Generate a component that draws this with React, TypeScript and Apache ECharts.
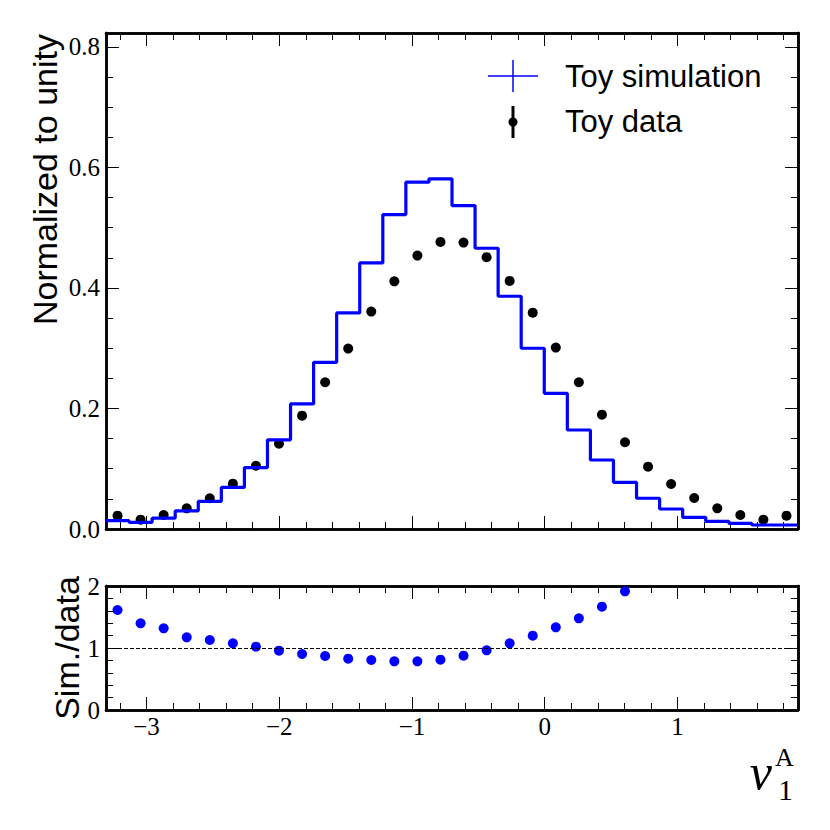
import React, { useEffect, useRef } from "react";
import * as echarts from "echarts";

// ---- data ----
const BIN_LO = -3.305;
const BIN_HI = 1.908;
const N_BINS = 30;

const simValues = [
  0.0138, 0.011, 0.018, 0.03, 0.046, 0.069, 0.102, 0.148, 0.2075, 0.2766,
  0.3585, 0.4415, 0.5217, 0.5754, 0.581, 0.5366, 0.4658, 0.3862, 0.2999, 0.2252,
  0.1643, 0.1145, 0.0775, 0.051, 0.0332, 0.0194, 0.0128, 0.0094, 0.0066, 0.0066,
];

const dataValues = [
  0.0221, 0.0155, 0.0232, 0.0343, 0.051, 0.0752, 0.105, 0.1416, 0.188, 0.2435,
  0.2993, 0.3607, 0.411, 0.4537, 0.4763, 0.4752, 0.451, 0.4116, 0.359, 0.301,
  0.2435, 0.1897, 0.1439, 0.1034, 0.0747, 0.0515, 0.0343, 0.0232, 0.0155, 0.0221,
];

const ratioValues = [
  1.613, 1.398, 1.317, 1.172, 1.129, 1.075, 1.022, 0.957, 0.903, 0.871,
  0.828, 0.806, 0.785, 0.785, 0.812, 0.876, 0.962, 1.075, 1.199, 1.333,
  1.478, 1.667, 1.914,
];

const xMajorTicks = [-3, -2, -1, 0, 1];
const yTopMajorTicks = [0, 0.2, 0.4, 0.6, 0.8];
const yRatioMajorTicks = [0, 1, 2];
const Y_TOP_MAX = 0.823;

const legendSim = "Toy simulation";
const legendData = "Toy data";
const yTitleTop = "Normalized to unity";
const yTitleRatio = "Sim./data";

// ---- derived ----
const binW = (BIN_HI - BIN_LO) / N_BINS;
const edges: number[] = [];
for (let i = 0; i <= N_BINS; i++) edges.push(BIN_LO + i * binW);
const centers = edges.slice(0, N_BINS).map((e) => e + binW / 2);

const histLine: number[][] = simValues.map((v, i) => [edges[i], v]);
histLine.push([edges[N_BINS], simValues[N_BINS - 1]]);

const xMinorTicks: number[] = [];
for (let k = -16; k <= 9; k++) {
  if (k % 5 !== 0) xMinorTicks.push(Math.round(k * 0.2 * 1000) / 1000);
}
const yTopMinorTicks: number[] = [];
for (let k = 1; k <= 15; k++) {
  if (k % 4 !== 0) yTopMinorTicks.push(Math.round(k * 0.05 * 1000) / 1000);
}
const yRatioMinorTicks: number[] = [];
for (let k = 1; k <= 9; k++) {
  if (k % 5 !== 0) yRatioMinorTicks.push(Math.round(k * 0.2 * 1000) / 1000);
}

const SERIF = "'Liberation Serif', 'DejaVu Serif', serif";
const SANS = "'Liberation Sans', Arial, sans-serif";
const MAJ = 13;
const MIN = 7;
const TICK_FONT = 25;

function makeX(gridIndex: number, position: string, ticks: number[], len: number, labels: boolean) {
  return {
    type: "value",
    gridIndex,
    position,
    min: BIN_LO,
    max: BIN_HI,
    axisLine: { show: true, onZero: false, lineStyle: { color: "#000", width: 2.5 } },
    axisTick: { show: true, inside: true, length: len, customValues: ticks, lineStyle: { color: "#000", width: 1 } },
    axisLabel: labels
      ? {
          show: true,
          customValues: xMajorTicks,
          margin: 4,
          fontFamily: SERIF,
          fontSize: TICK_FONT,
          color: "#000",
          formatter: (v: number) => String(v).replace("-", "\u2212"),
        }
      : { show: false },
    splitLine: { show: false },
  };
}

function makeY(
  gridIndex: number,
  position: string,
  min: number,
  max: number,
  ticks: number[],
  len: number,
  labelTicks: number[] | null,
  fmt: (v: number) => string
) {
  return {
    type: "value",
    gridIndex,
    position,
    min,
    max,
    axisLine: { show: true, onZero: false, lineStyle: { color: "#000", width: 2.5 } },
    axisTick: { show: true, inside: true, length: len, customValues: ticks, lineStyle: { color: "#000", width: 1 } },
    axisLabel: labelTicks
      ? {
          show: true,
          customValues: labelTicks,
          margin: 6,
          fontFamily: SERIF,
          fontSize: TICK_FONT,
          color: "#000",
          formatter: fmt,
        }
      : { show: false },
    splitLine: { show: false },
  };
}

export default function App() {
  const ref = useRef<HTMLDivElement>(null);

  useEffect(() => {
    document.body.style.margin = "0";
    if (!ref.current) return;
    const chart = echarts.init(ref.current, null, { renderer: "svg" });

    const fmtTop = (v: number) => v.toFixed(1);
    const fmtRatio = (v: number) => String(v);

    const option: any = {
      animation: false,
      backgroundColor: "#fff",
      grid: [
        { left: 106, top: 33, width: 692, height: 496, show: false },
        { left: 106, top: 586, width: 692, height: 124, show: false },
      ],
      xAxis: [
        makeX(0, "bottom", xMajorTicks, MAJ, false),
        makeX(0, "bottom", xMinorTicks, MIN, false),
        makeX(0, "top", xMajorTicks, MAJ, false),
        makeX(0, "top", xMinorTicks, MIN, false),
        makeX(1, "bottom", xMajorTicks, MAJ, true),
        makeX(1, "bottom", xMinorTicks, MIN, false),
        makeX(1, "top", xMajorTicks, MAJ, false),
        makeX(1, "top", xMinorTicks, MIN, false),
      ],
      yAxis: [
        makeY(0, "left", 0, Y_TOP_MAX, yTopMajorTicks, MAJ, yTopMajorTicks, fmtTop),
        makeY(0, "left", 0, Y_TOP_MAX, yTopMinorTicks, MIN, null, fmtTop),
        makeY(0, "right", 0, Y_TOP_MAX, yTopMajorTicks, MAJ, null, fmtTop),
        makeY(0, "right", 0, Y_TOP_MAX, yTopMinorTicks, MIN, null, fmtTop),
        makeY(1, "left", 0, 2, yRatioMajorTicks, MAJ, yRatioMajorTicks, fmtRatio),
        makeY(1, "left", 0, 2, yRatioMinorTicks, MIN, null, fmtRatio),
        makeY(1, "right", 0, 2, yRatioMajorTicks, MAJ, null, fmtRatio),
        makeY(1, "right", 0, 2, yRatioMinorTicks, MIN, null, fmtRatio),
      ],
      series: [
        {
          name: legendSim,
          type: "line",
          xAxisIndex: 0,
          yAxisIndex: 0,
          step: "end",
          data: histLine,
          symbol: "none",
          lineStyle: { color: "#0000ff", width: 3.2 },
          clip: true,
          silent: true,
        },
        {
          name: legendData,
          type: "scatter",
          xAxisIndex: 0,
          yAxisIndex: 0,
          data: centers.map((c, i) => [c, dataValues[i]]),
          symbol: "circle",
          symbolSize: 10,
          itemStyle: { color: "#000", opacity: 1 },
          silent: true,
        },
        {
          name: "ratio",
          type: "scatter",
          xAxisIndex: 4,
          yAxisIndex: 4,
          data: ratioValues.map((r, i) => [centers[i], r]),
          symbol: "circle",
          symbolSize: 10,
          itemStyle: { color: "#0000ff", opacity: 1 },
          silent: true,
          markLine: {
            silent: true,
            symbol: ["none", "none"],
            label: { show: false },
            lineStyle: { color: "#000", width: 1, type: [4, 2] },
            data: [{ yAxis: 1 }],
          },
        },
      ],
      graphic: [
        // legend
        { type: "line", shape: { x1: 488, y1: 76, x2: 538, y2: 76 }, style: { stroke: "#0000ff", lineWidth: 1.5 } },
        { type: "line", shape: { x1: 513, y1: 60, x2: 513, y2: 92 }, style: { stroke: "#0000ff", lineWidth: 1.5 } },
        { type: "line", shape: { x1: 513, y1: 106, x2: 513, y2: 138 }, style: { stroke: "#000", lineWidth: 3 } },
        { type: "circle", shape: { cx: 513, cy: 122, r: 4.5 }, style: { fill: "#000" } },
        {
          type: "text",
          x: 565,
          y: 76,
          style: { text: legendSim, fontFamily: SANS, fontSize: 31, fill: "#000", align: "left", verticalAlign: "middle" },
        },
        {
          type: "text",
          x: 565,
          y: 121,
          style: { text: legendData, fontFamily: SANS, fontSize: 31, fill: "#000", align: "left", verticalAlign: "middle" },
        },
        // y titles
        {
          type: "text",
          x: 45,
          y: 34,
          rotation: Math.PI / 2,
          style: { text: yTitleTop, fontFamily: SANS, fontSize: 34, fill: "#000", align: "right", verticalAlign: "middle" },
        },
        {
          type: "text",
          x: 67,
          y: 648,
          rotation: Math.PI / 2,
          style: { text: yTitleRatio, fontFamily: SANS, fontSize: 34, fill: "#000", align: "center", verticalAlign: "middle" },
        },
        // x title v_1^A
        {
          type: "text",
          x: 772,
          y: 772,
          style: { text: "v", fontFamily: SERIF, fontStyle: "italic", fontSize: 50, fill: "#000", align: "right", verticalAlign: "middle", lineHeight: 30 },
        },
        {
          type: "text",
          x: 775,
          y: 757,
          style: { text: "A", fontFamily: SERIF, fontSize: 26, fill: "#000", align: "left", verticalAlign: "middle", lineHeight: 18 },
        },
        {
          type: "text",
          x: 778,
          y: 789,
          style: { text: "1", fontFamily: SERIF, fontSize: 30, fill: "#000", align: "left", verticalAlign: "middle", lineHeight: 20 },
        },
      ],
    };

    chart.setOption(option);
    return () => chart.dispose();
  }, []);

  return (
    <div
      ref={ref}
      style={{ position: "absolute", left: 0, top: 0, width: 830, height: 830, background: "#fff" }}
    />
  );
}
